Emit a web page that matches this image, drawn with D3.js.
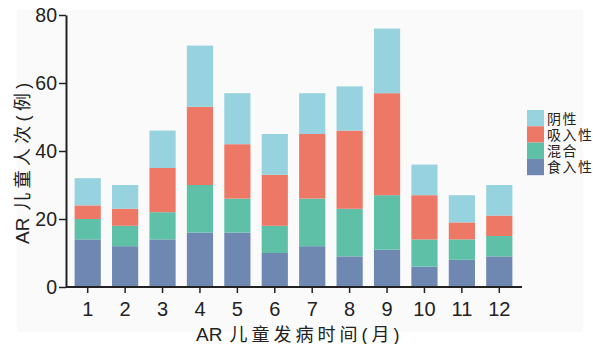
<!DOCTYPE html>
<html><head><meta charset="utf-8">
<script src="https://cdn.jsdelivr.net/npm/d3@7/dist/d3.min.js"></script>
<style>
html,body{margin:0;padding:0;background:#fff;}
svg{display:block;}
text{font-family:"Liberation Sans","Noto Sans CJK SC",Arial,sans-serif;fill:#222;}
</style></head><body>
<svg id="chart" width="593" height="344"></svg>
<script>
const months = ["1","2","3","4","5","6","7","8","9","10","11","12"];
const seriesNames = ["食入性","混合","吸入性","阴性"];
const food   = [14,12,14,16,16,10,12, 9,11, 6, 8, 9];
const mixed  = [ 6, 6, 8,14,10, 8,14,14,16, 8, 6, 6];
const inhal  = [ 4, 5,13,23,16,15,19,23,30,13, 5, 6];
const neg    = [ 8, 7,11,18,15,12,12,13,19, 9, 8, 9];
const yTicks = [0,20,40,60,80];
const colors = {"食入性":"#6f88b2","混合":"#5dc0a7","吸入性":"#ee7866","阴性":"#96d3de"};
const legendOrder = ["阴性","吸入性","混合","食入性"];

const rows = months.map((m,i)=>({month:m,"食入性":food[i],"混合":mixed[i],"吸入性":inhal[i],"阴性":neg[i]}));
const stack = d3.stack().keys(seriesNames)(rows);

const svg = d3.select("#chart");
svg.append("rect").attr("x",17).attr("y",10).attr("width",566).attr("height",322).attr("fill","#fafafa");

const x = d3.scaleBand().domain(months).range([69,518]).paddingInner(0.3).paddingOuter(0.15);
const y = d3.scaleLinear().domain([0,80]).range([287,15]);

svg.append("g").selectAll("g").data(stack).join("g")
  .attr("fill",d=>colors[d.key])
  .selectAll("rect").data(d=>d).join("rect")
  .attr("x",d=>x(d.data.month)).attr("width",x.bandwidth())
  .attr("y",d=>y(d[1])).attr("height",d=>y(d[0])-y(d[1]));

const xAxis = svg.append("g").attr("transform","translate(0,287)")
  .call(d3.axisBottom(x).tickSize(6).tickPadding(9).tickSizeOuter(0));
xAxis.select(".domain").attr("d","M66,0H522").attr("stroke","#222").attr("stroke-width",2);
xAxis.selectAll(".tick line").attr("stroke","#222").attr("stroke-width",1.5);
xAxis.selectAll(".tick text").attr("font-size",20).attr("fill","#222").attr("dy","0.72em");

const yAxis = svg.append("g").attr("transform","translate(66,0)")
  .call(d3.axisLeft(y).tickValues(yTicks).tickSize(7).tickPadding(2).tickSizeOuter(0));
yAxis.select(".domain").attr("stroke","#222").attr("stroke-width",2);
yAxis.selectAll(".tick line").attr("stroke","#222").attr("stroke-width",1.5);
yAxis.selectAll(".tick text").attr("font-size",19.5).attr("fill","#222");

const xt = svg.append("text").attr("x",196).attr("y",341).attr("font-size",18);
xt.append("tspan").attr("font-size",19).text("AR");
xt.append("tspan").attr("dx",7).attr("letter-spacing",4).text("儿童发病时间(月)");

const yt = svg.append("text").attr("transform","translate(29,244) rotate(-90)").attr("font-size",18);
yt.append("tspan").attr("font-size",19).text("AR");
yt.append("tspan").attr("dx",7).attr("letter-spacing",4.3).text("儿童人次(例)");

const lg = svg.append("g").attr("transform","translate(527,110)");
legendOrder.forEach((k,i)=>{
  lg.append("rect").attr("x",0).attr("y",i*16.3).attr("width",17).attr("height",16.3).attr("fill",colors[k]);
  lg.append("text").attr("x",20).attr("y",i*16.3+8.5).attr("dy","0.36em").attr("font-size",14)
    .attr("letter-spacing",1.5).text(k);
});
</script></body></html>
